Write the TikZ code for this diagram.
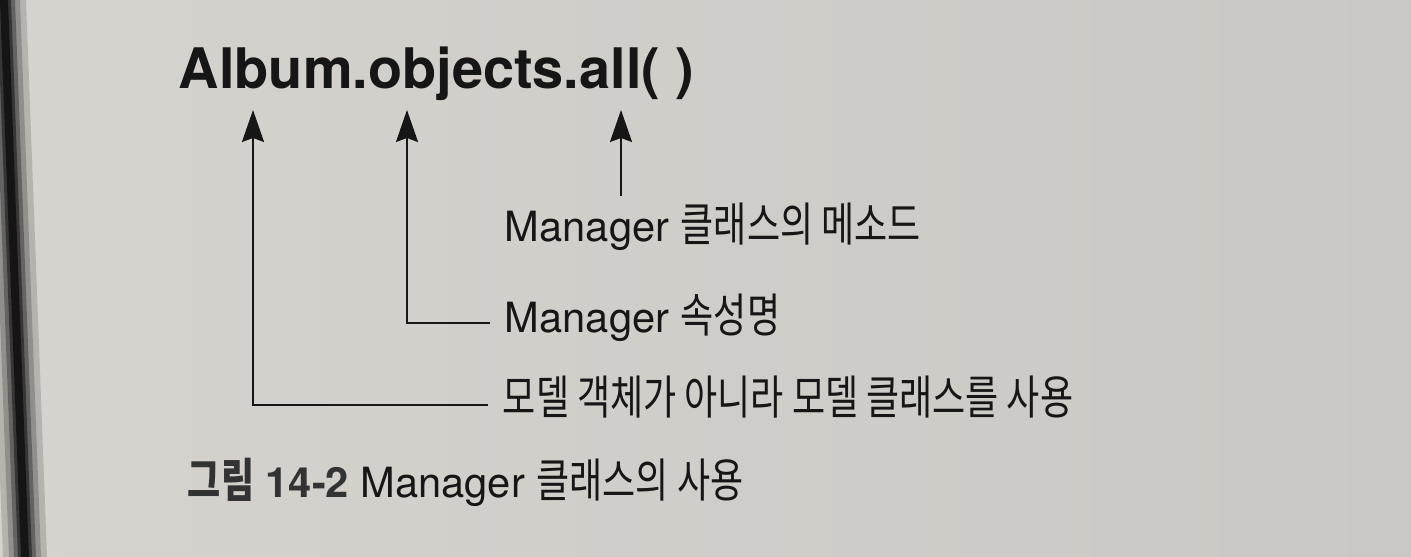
\documentclass[tikz,border=0pt]{standalone}
\usepackage{fontspec}
\setmainfont{TeX Gyre Heros}
\newfontfamily\kr[Scale=1.12,FakeStretch=0.772]{Noto Sans CJK KR}
\newcommand{\kor}[1]{{\kr #1}}
\usetikzlibrary{arrows.meta}
\definecolor{papel}{RGB}{201,200,196}
\definecolor{papelclaro}{RGB}{214,211,206}
\definecolor{tinta}{RGB}{22,22,22}

\begin{document}
\begin{tikzpicture}[x=0.02cm,y=-0.02cm,line width=1.1pt,>={Stealth[length=6.4mm,width=4.4mm,inset=0.8mm]},
  etiq/.style={anchor=base west,inner xsep=0.28cm,inner ysep=0.4cm,text height=0.5cm,text depth=0.1cm,
    font=\fontsize{23.7}{28}\selectfont,text=tinta}]
  \useasboundingbox (0,0) rectangle (1411,557);
  % hoja y borde
  \begin{scope}
    \clip (0,0) rectangle (1411,557);
    \shade[left color=papelclaro,right color=papel] (0,0) rectangle (1411,557);
    \foreach \w/\o in {22/0.15,16/0.2,11/0.3,7/0.45,4/0.6}
      \fill[black,opacity=\o] ({4-\w},0)--({4+\w},0)--({25+\w},557)--({25-\w},557)--cycle;
  \end{scope}
  % codigo
  \node[anchor=base west,inner sep=0pt,font=\fontsize{31.8}{36}\selectfont\bfseries,text=tinta] (titulo) at (178,89) {Album.objects.all( )};
  \coordinate (pModelo) at (253,110);
  \coordinate (pAtrib) at (407,110);
  \coordinate (pMetodo) at (621,110);
  % etiquetas
  \node[etiq] (metodo) at (490,242) {Manager \kor{클래스의 메소드}};
  \node[etiq] (atrib) at (490,333) {Manager \kor{속성명}};
  \node[etiq] (modelo) at (488,415) {\kor{모델 객체가 아니라 모델 클래스를 사용}};
  \draw[->,tinta] (metodo.north -| pMetodo) -- (pMetodo);
  \foreach \e/\p in {atrib/pAtrib,modelo/pModelo}
    \draw[->,tinta] (\e.west) -| (\p);
  % pie
  \node[anchor=base west,inner sep=0pt,font=\fontsize{23.7}{28}\selectfont,text=tinta] (pie) at (187,498)
    {\textcolor{black!80}{\kor{\bfseries 그림} \bfseries 14-2} Manager \kor{클래스의 사용}};
\end{tikzpicture}
\end{document}
